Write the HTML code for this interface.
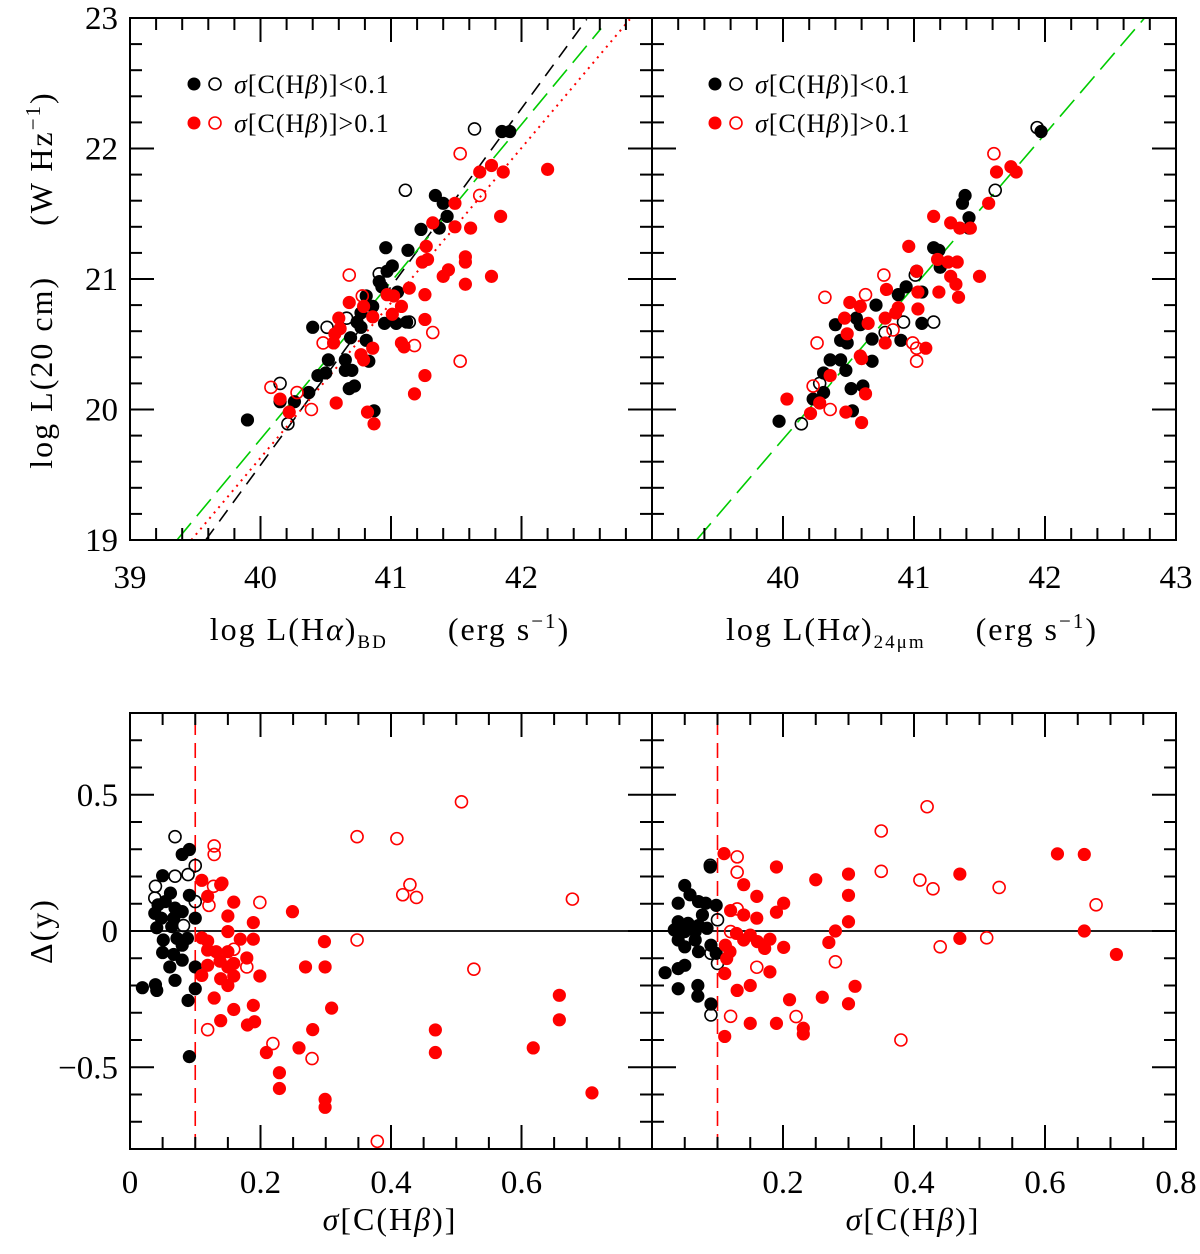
<!DOCTYPE html>
<html><head><meta charset="utf-8"><style>
html,body{margin:0;padding:0;background:#fff;}
svg{display:block;font-family:"Liberation Serif",serif;}
</style></head><body>
<svg id="fig" width="1200" height="1254" viewBox="0 0 1200 1254" xmlns="http://www.w3.org/2000/svg">
<g id="marks"></g>
<g id="frames"></g>
<g id="texts" font-size="33" fill="#000">
  <text transform="translate(52,280) rotate(-90)" text-anchor="middle" font-size="32" letter-spacing="2" xml:space="preserve">log L(20 cm)     (W Hz<tspan font-size="21" dy="-12">−1</tspan><tspan dy="12">)</tspan></text>
  <text x="390" y="640" text-anchor="middle" font-size="32" letter-spacing="2">log L(H<tspan font-style="italic">α</tspan>)<tspan font-size="19" dy="8">BD</tspan><tspan dy="-8" xml:space="preserve">      (erg s</tspan><tspan font-size="21" dy="-12">−1</tspan><tspan dy="12">)</tspan></text>
  <text x="912" y="640" text-anchor="middle" font-size="32" letter-spacing="2">log L(H<tspan font-style="italic">α</tspan>)<tspan font-size="19" dy="8">24μm</tspan><tspan dy="-8" xml:space="preserve">     (erg s</tspan><tspan font-size="21" dy="-12">−1</tspan><tspan dy="12">)</tspan></text>
  <text transform="translate(52,931) rotate(-90)" text-anchor="middle" font-size="32" letter-spacing="2">Δ(y)</text>
  <text x="390" y="1230" text-anchor="middle" font-size="32" letter-spacing="2"><tspan font-style="italic">σ</tspan>[C(H<tspan font-style="italic">β</tspan>)]</text>
  <text x="913" y="1230" text-anchor="middle" font-size="32" letter-spacing="2"><tspan font-style="italic">σ</tspan>[C(H<tspan font-style="italic">β</tspan>)]</text>
</g>
<g id="legend" font-size="26" letter-spacing="1">
  <g>
    <circle cx="194" cy="84" r="6.5" fill="#000"/><circle cx="215" cy="84" r="6" fill="none" stroke="#000" stroke-width="1.6"/>
    <text x="234" y="93"><tspan font-style="italic">σ</tspan>[C(H<tspan font-style="italic">β</tspan>)]&lt;0.1</text></g>
  <g>
    <circle cx="194" cy="123" r="6.5" fill="#f00"/><circle cx="215" cy="123" r="6" fill="none" stroke="#f00" stroke-width="1.6"/>
    <text x="234" y="132"><tspan font-style="italic">σ</tspan>[C(H<tspan font-style="italic">β</tspan>)]&gt;0.1</text></g>
  <g>
    <circle cx="715" cy="84" r="6.5" fill="#000"/><circle cx="736" cy="84" r="6" fill="none" stroke="#000" stroke-width="1.6"/>
    <text x="755" y="93"><tspan font-style="italic">σ</tspan>[C(H<tspan font-style="italic">β</tspan>)]&lt;0.1</text></g>
  <g>
    <circle cx="715" cy="123" r="6.5" fill="#f00"/><circle cx="736" cy="123" r="6" fill="none" stroke="#f00" stroke-width="1.6"/>
    <text x="755" y="132"><tspan font-style="italic">σ</tspan>[C(H<tspan font-style="italic">β</tspan>)]&gt;0.1</text></g>
</g>
</svg>
<script>
// ---------- Top-left panel data: [logL(Ha)_BD, logL(20cm)]
const tlBlackFilled=[[39.90,19.92],[41.85,22.13],[41.91,22.13],[41.34,21.64],[41.40,21.58],[41.43,21.48],[41.23,21.38],[41.37,21.39],[40.96,21.24],[41.13,21.22],[41.01,21.10],[40.97,21.06],[40.91,20.98],[40.93,20.94],[40.81,20.87],[41.05,20.90],[40.86,20.79],[40.77,20.74],[40.74,20.67],[40.95,20.66],[41.04,20.66],[41.12,20.67],[40.40,20.63],[40.77,20.63],[40.69,20.55],[40.81,20.53],[40.52,20.38],[40.65,20.38],[40.83,20.37],[40.44,20.26],[40.50,20.28],[40.65,20.30],[40.70,20.30],[40.68,20.16],[40.72,20.18],[40.37,20.13],[40.26,20.06],[40.15,20.06],[40.87,19.99]];
const tlBlackOpen=[[41.64,22.15],[41.11,21.68],[40.91,21.04],[40.51,20.63],[40.66,20.70],[40.15,20.20],[40.21,19.89],[41.14,20.67]];
const tlRedFilled=[[42.20,21.84],[41.68,21.82],[41.77,21.87],[41.86,21.82],[41.49,21.58],[41.32,21.43],[41.49,21.40],[41.61,21.39],[41.84,21.48],[41.27,21.25],[41.24,21.13],[41.28,21.15],[41.57,21.17],[41.57,21.13],[41.44,21.07],[41.40,21.02],[41.77,21.02],[41.57,20.96],[41.14,20.93],[41.26,20.88],[40.97,20.88],[41.02,20.87],[40.68,20.82],[40.79,20.79],[41.08,20.79],[41.01,20.73],[40.86,20.71],[40.60,20.70],[40.61,20.62],[40.57,20.58],[40.56,20.51],[41.26,20.69],[40.86,20.47],[41.08,20.51],[41.10,20.48],[40.77,20.42],[40.79,20.38],[41.26,20.26],[41.18,20.12],[40.58,20.05],[40.15,20.08],[40.22,19.98],[40.82,19.98],[40.87,19.89]];
const tlRedOpen=[[41.53,21.96],[41.68,21.64],[40.68,21.03],[40.78,20.87],[40.48,20.51],[41.18,20.49],[41.32,20.59],[41.53,20.37],[40.08,20.17],[40.28,20.13],[40.39,20.00]];
const tlGreenLine=[[39.36,19.0],[42.61,22.92]];
const tlBlackLine=[[39.58,19.0],[42.50,22.99]];
const tlRedLine=[[39.47,19.0],[42.83,22.99]];
// ---------- Top-right panel data: [logL(Ha)_24um, logL(20cm)]
const trBlackFilled=[[39.97,19.91],[41.97,22.13],[41.39,21.64],[41.37,21.58],[41.42,21.47],[41.42,21.39],[41.15,21.24],[41.19,21.22],[41.20,21.09],[41.02,21.06],[40.94,20.94],[40.88,20.88],[41.06,20.90],[40.71,20.80],[40.56,20.70],[40.59,20.65],[40.40,20.65],[40.44,20.53],[40.49,20.51],[40.68,20.54],[40.90,20.53],[41.06,20.66],[40.68,20.37],[40.36,20.38],[40.44,20.38],[40.48,20.30],[40.31,20.28],[40.52,20.16],[40.61,20.18],[40.23,20.08],[40.31,20.13],[40.53,19.99]];
const trBlackOpen=[[41.94,22.16],[41.62,21.68],[41.15,20.67],[40.92,20.67],[40.78,20.59],[40.28,20.20],[40.14,19.89],[41.01,21.03]];
const trRedFilled=[[41.63,21.82],[41.74,21.86],[41.78,21.82],[41.57,21.58],[41.15,21.48],[41.28,21.43],[41.35,21.39],[41.43,21.39],[40.96,21.25],[41.18,21.15],[41.26,21.13],[41.33,21.13],[41.28,21.02],[41.32,20.96],[41.50,21.02],[41.02,21.06],[40.79,20.92],[41.03,20.90],[41.19,20.90],[41.34,20.86],[40.51,20.82],[40.59,20.79],[41.03,20.77],[40.86,20.74],[40.78,20.70],[40.47,20.70],[40.65,20.66],[40.49,20.58],[40.78,20.51],[41.09,20.47],[40.59,20.41],[40.60,20.39],[40.36,20.26],[40.63,20.12],[40.03,20.08],[40.28,20.05],[40.21,19.97],[40.48,19.98],[40.60,19.90],[40.88,20.78]];
const trRedOpen=[[41.61,21.96],[40.77,21.03],[40.32,20.86],[40.63,20.88],[40.26,20.51],[40.84,20.61],[40.99,20.51],[41.02,20.47],[41.02,20.37],[40.23,20.18],[40.36,20.00]];
const trGreenLine=[[39.34,19.0],[42.76,23.0]];
// ---------- Bottom-left panel data: [sigma C(Hb), Delta y]
const blBlackFilled=[[0.080,0.281],[0.091,0.299],[0.050,0.203],[0.062,0.139],[0.091,0.131],[0.043,0.096],[0.054,0.108],[0.069,0.084],[0.080,0.071],[0.038,0.065],[0.048,0.047],[0.067,0.047],[0.100,0.047],[0.041,0.012],[0.064,0.016],[0.051,-0.033],[0.072,-0.027],[0.088,-0.027],[0.050,-0.079],[0.067,-0.086],[0.080,-0.107],[0.061,-0.132],[0.100,-0.132],[0.069,-0.181],[0.019,-0.208],[0.039,-0.197],[0.041,-0.218],[0.100,-0.212],[0.089,-0.255],[0.091,-0.461],[0.080,-0.052]];
const blBlackOpen=[[0.069,0.346],[0.100,0.240],[0.069,0.201],[0.089,0.207],[0.039,0.164],[0.038,0.121],[0.100,0.108],[0.082,0.020]];
const blRedFilled=[[0.110,0.186],[0.141,0.176],[0.139,0.170],[0.119,0.127],[0.159,0.106],[0.150,0.055],[0.189,0.031],[0.249,0.071],[0.150,-0.002],[0.110,-0.025],[0.119,-0.037],[0.169,-0.030],[0.189,-0.030],[0.298,-0.039],[0.119,-0.070],[0.132,-0.076],[0.150,-0.076],[0.179,-0.099],[0.138,-0.111],[0.159,-0.119],[0.119,-0.126],[0.150,-0.132],[0.269,-0.132],[0.299,-0.132],[0.110,-0.163],[0.139,-0.175],[0.159,-0.165],[0.199,-0.165],[0.150,-0.200],[0.129,-0.246],[0.189,-0.273],[0.159,-0.288],[0.309,-0.283],[0.139,-0.329],[0.180,-0.345],[0.191,-0.333],[0.280,-0.362],[0.468,-0.363],[0.658,-0.236],[0.658,-0.326],[0.209,-0.446],[0.259,-0.429],[0.468,-0.446],[0.618,-0.429],[0.229,-0.520],[0.229,-0.578],[0.299,-0.618],[0.299,-0.647],[0.708,-0.594]];
const blRedOpen=[[0.129,0.312],[0.129,0.281],[0.128,0.164],[0.121,0.094],[0.199,0.105],[0.348,0.346],[0.409,0.339],[0.508,0.474],[0.429,0.170],[0.418,0.133],[0.439,0.123],[0.678,0.117],[0.348,-0.033],[0.159,-0.067],[0.179,-0.132],[0.527,-0.140],[0.119,-0.362],[0.219,-0.413],[0.279,-0.468],[0.379,-0.772]];
// ---------- Bottom-right panel data
const brBlackFilled=[[0.089,0.235],[0.050,0.167],[0.058,0.133],[0.040,0.102],[0.071,0.108],[0.082,0.102],[0.098,0.094],[0.077,0.059],[0.040,0.034],[0.055,0.028],[0.071,0.020],[0.034,0.004],[0.050,-0.002],[0.066,-0.002],[0.084,0.010],[0.040,-0.033],[0.066,-0.033],[0.050,-0.058],[0.071,-0.076],[0.090,-0.052],[0.098,-0.082],[0.050,-0.126],[0.040,-0.138],[0.020,-0.153],[0.070,-0.200],[0.040,-0.212],[0.070,-0.239],[0.090,-0.268]];
const brBlackOpen=[[0.089,0.241],[0.100,0.041],[0.090,-0.082],[0.100,-0.119],[0.090,-0.308]];
const brRedFilled=[[0.110,0.284],[0.190,0.235],[0.140,0.170],[0.160,0.127],[0.250,0.188],[0.300,0.209],[0.300,0.131],[0.201,0.102],[0.120,0.075],[0.140,0.059],[0.160,0.047],[0.190,0.069],[0.300,0.034],[0.280,0.000],[0.129,-0.009],[0.150,-0.015],[0.140,-0.033],[0.161,-0.039],[0.180,-0.030],[0.201,-0.060],[0.172,-0.064],[0.112,-0.052],[0.119,-0.076],[0.114,-0.101],[0.111,-0.156],[0.270,-0.042],[0.180,-0.150],[0.150,-0.200],[0.130,-0.218],[0.310,-0.203],[0.210,-0.252],[0.260,-0.243],[0.300,-0.267],[0.150,-0.339],[0.190,-0.339],[0.231,-0.357],[0.231,-0.378],[0.111,-0.387],[0.470,0.209],[0.470,-0.027],[0.619,0.283],[0.660,0.281],[0.660,0.000],[0.709,-0.086]];
const brRedOpen=[[0.130,0.272],[0.130,0.216],[0.350,0.367],[0.350,0.219],[0.420,0.456],[0.409,0.187],[0.429,0.155],[0.530,0.160],[0.440,-0.058],[0.511,-0.025],[0.280,-0.113],[0.160,-0.133],[0.120,-0.313],[0.220,-0.314],[0.380,-0.400],[0.678,0.096],[0.130,0.081],[0.120,-0.002]];
const sigmaCut=[0.1];
const zeroLevel=[0];
// ---------- tick labels
const topYTicks=[19,20,21,22,23];
const tlXTicks=[39,40,41,42];
const trXTicks=[40,41,42,43];
const botYTicks=[-0.5,0,0.5];
const blXTicks=[0,0.2,0.4,0.6];
const brXTicks=[0.2,0.4,0.6,0.8];

const NS='http://www.w3.org/2000/svg';
const marks=document.getElementById('marks');
const frames=document.getElementById('frames');
const texts=document.getElementById('texts');
function mk(tag,attrs,parent){const e=document.createElementNS(NS,tag);for(const k in attrs)e.setAttribute(k,attrs[k]);parent.appendChild(e);return e;}

function makePanel(name,x0,x1,y0,y1,xmin,xmax,ymin,ymax){
  const p={name,x0,x1,y0,y1,sx:v=>x0+(v-xmin)/(xmax-xmin)*(x1-x0),sy:v=>y1-(v-ymin)/(ymax-ymin)*(y1-y0),xmin,xmax,ymin,ymax};
  const cp=mk('clipPath',{id:'clip-'+name},marks);
  mk('rect',{x:x0,y:y0,width:x1-x0,height:y1-y0},cp);
  p.g=mk('g',{'clip-path':'url(#clip-'+name+')'},marks);
  
  
  return p;
}
function frame(p,xMinor,xMajor,yMinor,yMajor){
  const g=mk('g',{stroke:'#000','stroke-width':2,fill:'none'},frames);
  
  
  mk('rect',{x:p.x0,y:p.y0,width:p.x1-p.x0,height:p.y1-p.y0},g);
  const nx=Math.round((p.xmax-p.xmin)/xMinor);
  for(let i=1;i<nx;i++){const v=p.xmin+i*xMinor;const maj=Math.abs(v/xMajor-Math.round(v/xMajor))<1e-6;const L=maj?24:12;const x=p.sx(v);
    mk('line',{x1:x,x2:x,y1:p.y1,y2:p.y1-L},g);mk('line',{x1:x,x2:x,y1:p.y0,y2:p.y0+L},g);}
  const ny=Math.round((p.ymax-p.ymin)/yMinor);
  for(let i=1;i<ny;i++){const v=p.ymin+i*yMinor;const maj=Math.abs(v/yMajor-Math.round(v/yMajor))<1e-6;const L=maj?24:12;const y=p.sy(v);
    mk('line',{y1:y,y2:y,x1:p.x0,x2:p.x0+L},g);mk('line',{y1:y,y2:y,x1:p.x1,x2:p.x1-L},g);}
}
function pts(p,arr,color,filled,label){
  arr.forEach(d=>{
    const c=mk('circle',{cx:p.sx(d[0]),cy:p.sy(d[1]),r:filled?6.6:6,fill:filled?color:'none',stroke:filled?'none':color,'stroke-width':1.6},p.g);
    
    
  });
}
function line(p,seg,color,dash,label,w){
  const l=mk('line',{x1:p.sx(seg[0][0]),y1:p.sy(seg[0][1]),x2:p.sx(seg[1][0]),y2:p.sy(seg[1][1]),stroke:color,'stroke-width':w||1.6,'stroke-dasharray':dash},p.g);
  
  
}
function xlabels(p,ticks,y,fmt){ticks.forEach(t=>{const e=mk('text',{x:p.sx(t),y:y,'text-anchor':'middle'},texts);e.textContent=fmt(t);
  
  });}
function ylabels(p,ticks,fmt){ticks.forEach(t=>{const e=mk('text',{x:p.x0-12,y:p.sy(t)+11,'text-anchor':'end'},texts);e.textContent=fmt(t);
  
  });}
const fmtB=t=>t===0?'0':(t<0?'−':'')+Math.abs(t).toFixed(1);

const TL=makePanel('top-left',130,652,18,540,39,43,19,23);
const TR=makePanel('top-right',652,1176,18,540,39,43,19,23);
const BL=makePanel('bottom-left',130,652,713,1149,0,0.8,-0.8,0.8);
const BR=makePanel('bottom-right',652,1176,713,1149,0,0.8,-0.8,0.8);

line(TL,tlBlackLine,'#000','14 9','fit-line-black-dashed',1.6);
line(TL,tlRedLine,'#f00','2 5','fit-line-red-dotted',2);
line(TL,tlGreenLine,'#0c0','22 9','fit-line-green-long-dash',1.6);
line(TR,trGreenLine,'#0c0','22 9','fit-line-green-long-dash',1.6);

[BL,BR].forEach(p=>{
  line(p,[[p.xmin,zeroLevel[0]],[p.xmax,zeroLevel[0]]],'#000','none','zero-line',1.8);
  line(p,[[sigmaCut[0],p.ymin],[sigmaCut[0],p.ymax]],'#f00','15 8','sigma-cut-line',1.6);
});

pts(TL,tlBlackFilled,'#000',true,'point-low-sigma-filled');
pts(TL,tlBlackOpen,'#000',false,'point-low-sigma-open');
pts(TL,tlRedFilled,'#f00',true,'point-high-sigma-filled');
pts(TL,tlRedOpen,'#f00',false,'point-high-sigma-open');
pts(TR,trBlackFilled,'#000',true,'point-low-sigma-filled');
pts(TR,trBlackOpen,'#000',false,'point-low-sigma-open');
pts(TR,trRedFilled,'#f00',true,'point-high-sigma-filled');
pts(TR,trRedOpen,'#f00',false,'point-high-sigma-open');
pts(BL,blBlackFilled,'#000',true,'point-low-sigma-filled');
pts(BL,blBlackOpen,'#000',false,'point-low-sigma-open');
pts(BL,blRedFilled,'#f00',true,'point-high-sigma-filled');
pts(BL,blRedOpen,'#f00',false,'point-high-sigma-open');
pts(BR,brBlackFilled,'#000',true,'point-low-sigma-filled');
pts(BR,brBlackOpen,'#000',false,'point-low-sigma-open');
pts(BR,brRedFilled,'#f00',true,'point-high-sigma-filled');
pts(BR,brRedOpen,'#f00',false,'point-high-sigma-open');

frame(TL,0.2,1,0.2,1);frame(TR,0.2,1,0.2,1);
frame(BL,0.05,0.2,0.1,0.5);frame(BR,0.05,0.2,0.1,0.5);

ylabels(TL,topYTicks,t=>String(t));
xlabels(TL,tlXTicks,588,t=>String(t));
xlabels(TR,trXTicks,588,t=>String(t));
ylabels(BL,botYTicks,fmtB);
xlabels(BL,blXTicks,1193,fmtB);
xlabels(BR,brXTicks,1193,fmtB);
</script>
</body></html>
